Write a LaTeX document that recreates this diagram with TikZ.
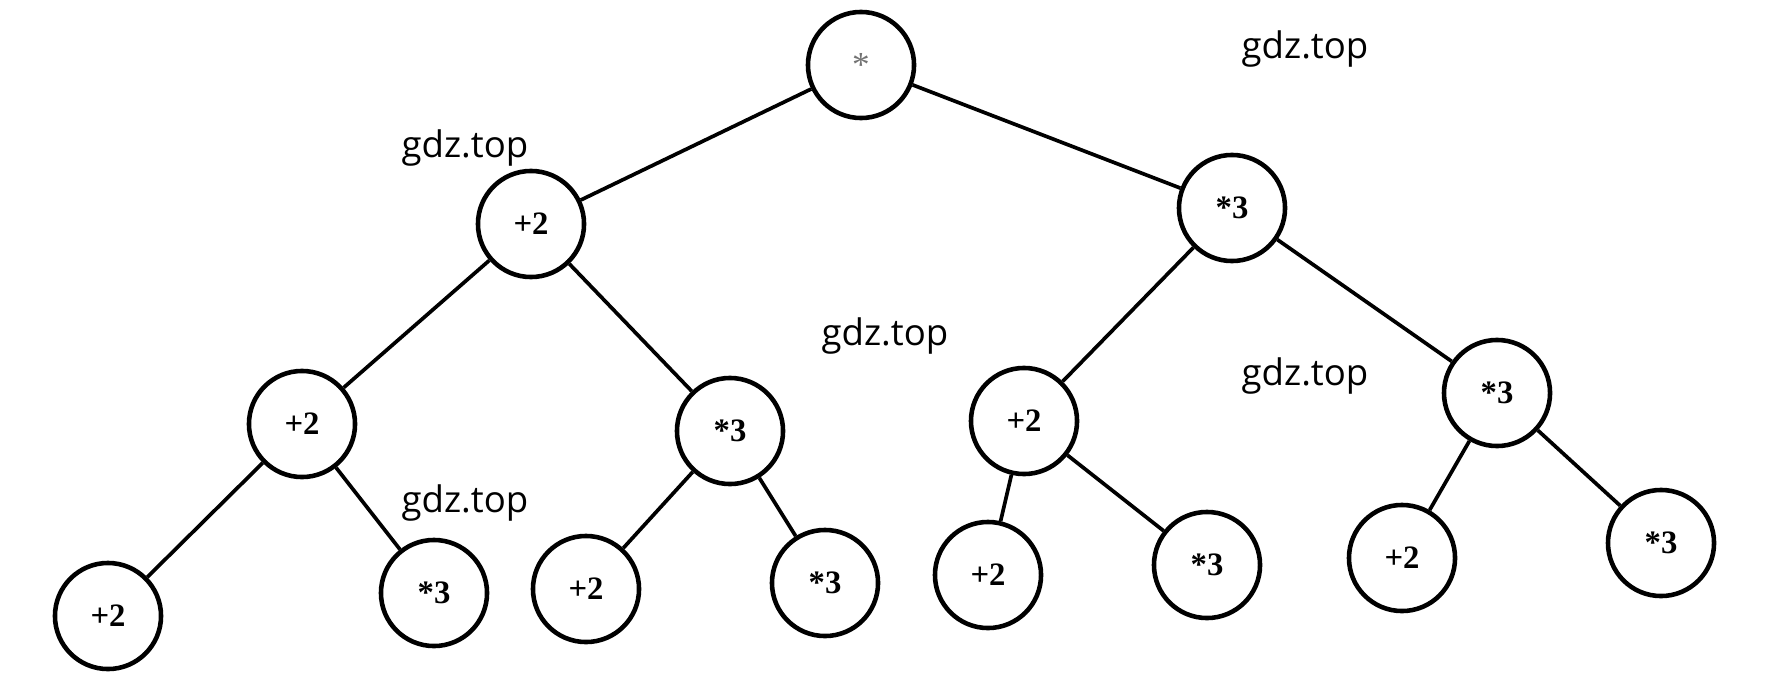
\documentclass[tikz,border=0pt]{standalone}
\usepackage{fontspec}
\setmainfont{Liberation Serif}
\newfontfamily\wmfont{Open Sans}
\usetikzlibrary{positioning}

\tikzset{
  opnode/.style={circle, draw, line width=1.3pt, minimum size=1.06cm, inner sep=0pt,
    font=\fontsize{9.3}{11}\selectfont\bfseries},
  treeedge/.style={line width=1.05pt},
  wmark/.style={font=\wmfont\fontsize{10.4}{12}\selectfont, text=black}
}

\begin{document}
\begin{tikzpicture}[x=0.01cm, y=-0.01cm]
    \useasboundingbox (0,0) rectangle (1774,685);

    % root
    \node[opnode, font=\fontsize{10}{12}\selectfont, text=black!55] (root) at (861,65) {*};

    % level 1
    \node[opnode] (p1) at (531,224) {+2};
    \node[opnode] (m1) at (1232,208) {*3};

    % level 2
    \node[opnode] (pp) at (302,424) {+2};
    \node[opnode] (pm) at (730,431) {*3};
    \node[opnode] (mp) at (1024,421) {+2};
    \node[opnode] (mm) at (1497,393) {*3};

    % leaves
    \node[opnode] (ppp) at (108,616) {+2};
    \node[opnode] (ppm) at (434,593) {*3};
    \node[opnode] (pmp) at (586,589) {+2};
    \node[opnode] (pmm) at (825,583) {*3};
    \node[opnode] (mpp) at (988,575) {+2};
    \node[opnode] (mpm) at (1207,565) {*3};
    \node[opnode] (mmp) at (1402,558) {+2};
    \node[opnode] (mmm) at (1661,543) {*3};

    \draw[treeedge] (root) -- (p1);
    \draw[treeedge] (root) -- (m1);
    \draw[treeedge] (p1) -- (pp);
    \draw[treeedge] (p1) -- (pm);
    \draw[treeedge] (m1) -- (mp);
    \draw[treeedge] (m1) -- (mm);
    \draw[treeedge] (pp) -- (ppp);
    \draw[treeedge] (pp) -- (ppm);
    \draw[treeedge] (pm) -- (pmp);
    \draw[treeedge] (pm) -- (pmm);
    \draw[treeedge] (mp) -- (mpp);
    \draw[treeedge] (mp) -- (mpm);
    \draw[treeedge] (mm) -- (mmp);
    \draw[treeedge] (mm) -- (mmm);

    % watermarks
    \node[wmark] (w1) at (465,148) {gdz.top};
    \node[wmark] (w2) at (1305,49) {gdz.top};
    \node[wmark] (w3) at (885,336) {gdz.top};
    \node[wmark] (w4) at (1305,376) {gdz.top};
    \node[wmark] (w5) at (465,503) {gdz.top};
\end{tikzpicture}
\end{document}
